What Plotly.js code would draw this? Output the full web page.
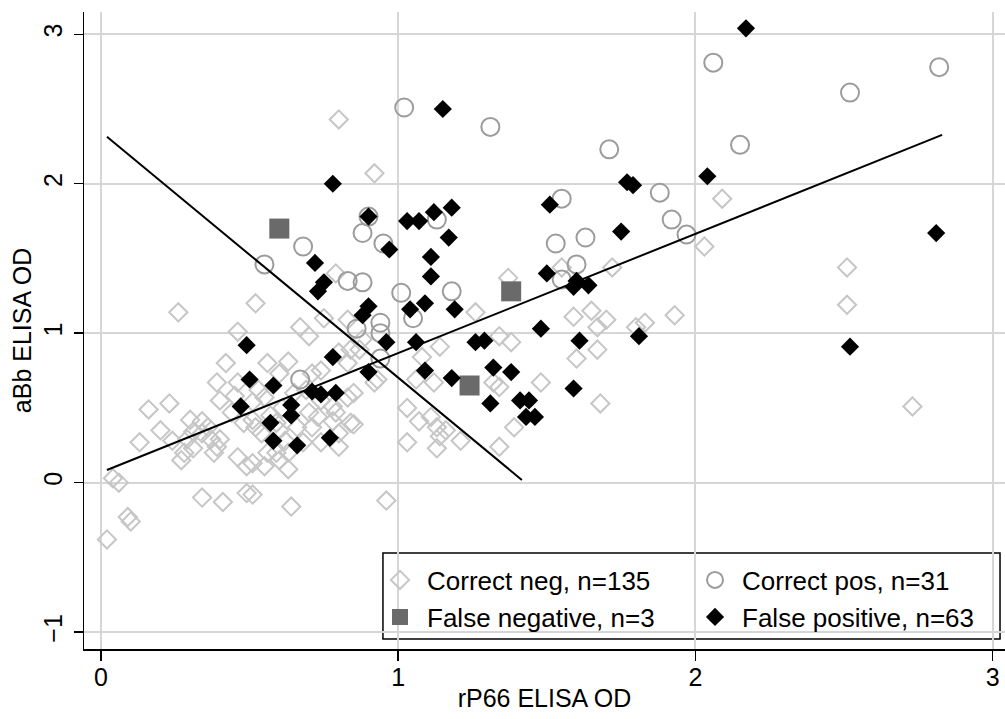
<!DOCTYPE html>
<html>
<head>
<meta charset="utf-8">
<script src="https://cdn.plot.ly/plotly-3.0.1.min.js"></script>
<style>html,body{margin:0;padding:0;background:#fff;}#chart{width:1005px;height:719px;}</style>
</head>
<body>
<div id="chart"></div>
<script>
// Correct negatives (n=135)
const negX = [0.80,0.92,2.09,2.03,2.51,2.51,2.73,1.93,1.72,1.55,1.37,1.26,1.34,1.38,1.32,1.34,1.48,1.59,1.65,1.67,
  1.70,1.60,1.67,1.83,1.80,1.68,1.39,1.34,1.21,1.16,1.14,1.14,0.96,1.03,1.07,1.13,1.03,0.85,1.06,1.12,
  0.85,0.93,0.84,0.26,0.52,0.46,0.67,0.70,0.75,0.79,0.83,0.87,0.92,0.42,0.56,0.63,0.39,0.46,0.53,0.60,
  0.71,0.74,0.65,0.74,0.83,0.84,0.78,0.16,0.23,0.13,0.20,0.30,0.29,0.40,0.44,0.51,0.54,0.60,0.66,0.70,
  0.71,0.78,0.37,0.38,0.46,0.28,0.27,0.51,0.60,0.74,0.80,0.04,0.06,0.09,0.10,0.02,0.34,0.41,0.49,0.51,
  0.64,0.31,0.34,0.39,0.49,0.55,0.63,0.52,0.59,0.48,0.59,0.34,0.40,0.31,0.80,0.88,0.83,0.79,0.80,0.51,
  0.55,0.61,0.73,0.68,0.63,0.56,1.08,1.11,1.13,0.45,0.57,0.69,0.36,0.62,0.24];
const negY = [2.43,2.07,1.90,1.58,1.44,1.19,0.51,1.12,1.44,1.44,1.37,1.14,0.98,0.94,0.67,0.64,0.67,1.11,1.15,1.04,
  1.09,0.83,0.89,1.07,1.04,0.53,0.37,0.24,0.28,0.35,0.91,0.31,-0.12,0.50,0.41,0.37,0.27,0.39,0.69,0.67,
  0.60,0.69,0.89,1.14,1.20,1.01,1.04,0.98,1.10,1.40,1.09,0.89,0.67,0.80,0.80,0.81,0.67,0.67,0.62,0.73,
  0.73,0.75,0.60,0.55,0.57,0.40,0.41,0.49,0.53,0.27,0.35,0.42,0.29,0.55,0.47,0.42,0.33,0.35,0.37,0.47,
  0.37,0.51,0.29,0.20,0.17,0.20,0.15,0.13,0.15,0.27,0.24,0.03,0.00,-0.23,-0.26,-0.38,-0.10,-0.13,-0.07,-0.08,
  -0.16,0.34,0.33,0.24,0.11,0.11,0.09,0.37,0.40,0.40,0.20,0.41,0.29,0.23,0.87,0.96,0.80,0.47,0.33,0.54,
  0.57,0.50,0.44,0.27,0.20,0.20,0.84,0.44,0.23,0.58,0.45,0.62,0.37,0.28,0.28];

// Correct positives (n=31)
const posX = [1.02,1.31,2.06,2.82,2.52,2.15,1.71,1.55,1.88,1.92,1.97,0.55,0.68,0.83,0.88,0.88,0.90,0.95,1.13,1.01,
  1.18,1.05,0.86,0.94,0.94,0.94,0.67,1.53,1.63,1.60,1.55];
const posY = [2.51,2.38,2.81,2.78,2.61,2.26,2.23,1.90,1.94,1.76,1.66,1.46,1.58,1.35,1.34,1.67,1.78,1.60,1.76,1.27,
  1.28,1.10,1.03,1.07,1.00,0.83,0.69,1.60,1.64,1.46,1.36];

// False negatives (n=3)
const fnX = [0.60,1.38,1.24];
const fnY = [1.70,1.28,0.65];

// False positives (n=63)
const fpX = [2.17,2.04,2.81,2.52,1.15,0.78,0.90,1.03,1.07,1.12,1.18,1.17,0.97,1.11,1.11,1.09,1.19,1.04,0.90,0.88,
  0.96,1.06,0.90,1.09,1.18,1.26,1.29,1.32,1.38,1.31,1.41,1.44,1.43,1.46,1.48,1.51,1.50,1.59,1.60,1.64,
  1.61,1.59,1.75,1.77,1.79,1.81,0.72,0.75,0.73,0.78,0.49,0.50,0.58,0.71,0.74,0.79,0.47,0.64,0.64,0.57,
  0.58,0.66,0.77];
const fpY = [3.04,2.05,1.67,0.91,2.50,2.00,1.78,1.75,1.75,1.81,1.84,1.64,1.56,1.51,1.38,1.20,1.16,1.16,1.18,1.12,
  0.94,0.94,0.74,0.75,0.70,0.94,0.95,0.77,0.74,0.53,0.55,0.55,0.44,0.44,1.03,1.86,1.40,1.31,1.35,1.32,
  0.95,0.63,1.68,2.01,1.99,0.98,1.47,1.34,1.28,0.84,0.92,0.69,0.65,0.61,0.59,0.60,0.51,0.52,0.45,0.40,
  0.28,0.25,0.30];

// Fitted line and cut-off line end points
const fitX = [0.02, 2.83];
const fitY = [0.085, 2.327];
const cutX = [0.02, 1.416];
const cutY = [2.314, 0.018];

const xTicks = [0, 1, 2, 3];
const yTicks = [-1, 0, 1, 2, 3];

const FONT = 'Liberation Sans, Arial, Helvetica, sans-serif';

const traces = [
  {x: negX, y: negY, type: 'scatter', mode: 'markers', name: 'Correct neg, n=135', legend: 'legend',
   marker: {symbol: 'diamond-open', size: 14, color: '#c6c6c6', line: {width: 2, color: '#c6c6c6'}}},
  {x: posX, y: posY, type: 'scatter', mode: 'markers', name: 'Correct pos, n=31', legend: 'legend',
   marker: {symbol: 'circle-open', size: 18, color: '#9c9c9c', line: {width: 2, color: '#9c9c9c'}}},
  {x: fnX, y: fnY, type: 'scatter', mode: 'markers', name: 'False negative, n=3', legend: 'legend2',
   marker: {symbol: 'square', size: 20, color: '#6a6a6a', line: {width: 0}}},
  {x: fpX, y: fpY, type: 'scatter', mode: 'markers', name: 'False positive, n=63', legend: 'legend2',
   marker: {symbol: 'diamond', size: 14, color: '#000000', line: {width: 0}}},
  {x: fitX, y: fitY, type: 'scatter', mode: 'lines', showlegend: false, hoverinfo: 'skip',
   line: {color: '#000', width: 2}},
  {x: cutX, y: cutY, type: 'scatter', mode: 'lines', showlegend: false, hoverinfo: 'skip',
   line: {color: '#000', width: 2}}
];

const legendCommon = {
  orientation: 'h', xanchor: 'left', yanchor: 'middle', x: 0.3138,
  bgcolor: 'rgba(0,0,0,0)', borderwidth: 0,
  entrywidth: 256, entrywidthmode: 'pixels', itemwidth: 44,
  font: {family: FONT, size: 26, color: '#000'}
};

const layout = {
  width: 1005, height: 719,
  margin: {l: 84, r: 0, t: 12, b: 70, pad: 0, autoexpand: false},
  paper_bgcolor: '#fff', plot_bgcolor: '#fff',
  font: {family: FONT, size: 26, color: '#000'},
  showlegend: true,
  xaxis: {
    range: [-0.0572, 3.0415], tickvals: xTicks, ticktext: xTicks.map(String),
    automargin: false,
    ticks: 'outside', ticklen: 10, tickwidth: 1.5, tickcolor: '#000',
    ticklabelstandoff: -5,
    showline: true, linecolor: '#000', linewidth: 1.5,
    showgrid: true, gridcolor: '#d6d6d6', gridwidth: 2, zeroline: false,
    tickfont: {family: FONT, size: 25, color: '#000'},
    title: {text: 'rP66 ELISA OD', font: {family: FONT, size: 25, color: '#000'}, standoff: 0}
  },
  yaxis: {
    range: [-1.113, 3.149], tickvals: yTicks, ticktext: yTicks.map(v => v < 0 ? '\u2212' + Math.abs(v) : String(v)),
    automargin: false,
    ticks: 'outside', ticklen: 9, tickwidth: 1.5, tickcolor: '#000', tickangle: -90,
    ticklabelstandoff: 2,
    showline: true, linecolor: '#000', linewidth: 1.5,
    showgrid: true, gridcolor: '#d6d6d6', gridwidth: 2, zeroline: false,
    tickfont: {family: FONT, size: 25, color: '#000'},
    title: {text: 'aBb ELISA OD', font: {family: FONT, size: 25, color: '#000'}, standoff: 0}
  },
  legend: Object.assign({}, legendCommon, {y: 0.1083}),
  legend2: Object.assign({}, legendCommon, {y: 0.0502}),
  shapes: [{
    type: 'rect', xref: 'paper', yref: 'paper', layer: 'between',
    x0: 0.3246, x1: 0.9946, y0: 0.0157, y1: 0.1507,
    fillcolor: '#ffffff', line: {color: '#000', width: 1.5}
  }]
};

Plotly.newPlot('chart', traces, layout, {displayModeBar: false, staticPlot: true});
</script>
</body>
</html>
